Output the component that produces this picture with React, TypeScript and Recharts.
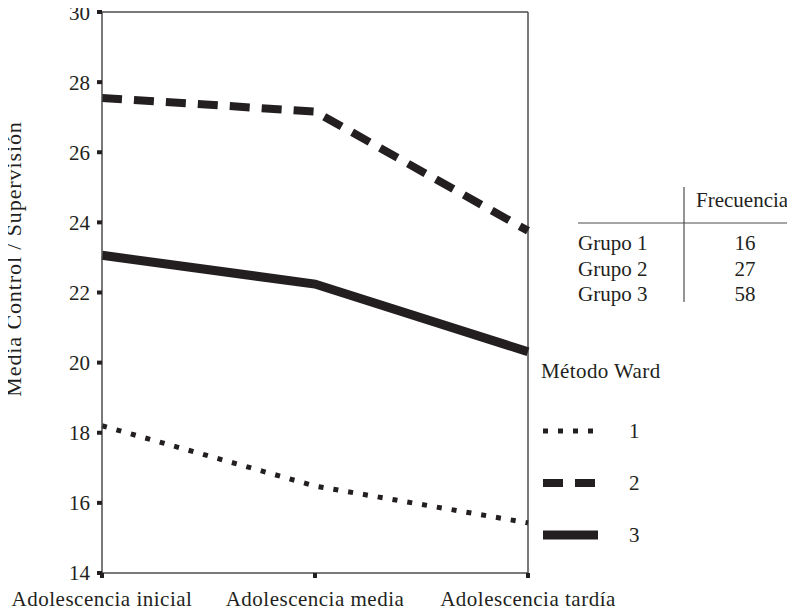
import React from "react"
import { LineChart, Line, XAxis, YAxis, ReferenceLine } from "recharts"

// categorías del eje X
const categories = ["Adolescencia inicial", "Adolescencia media", "Adolescencia tardía"]

// medias por grupo (Método Ward)
const grupo1 = [18.2, 16.48, 15.43]
const grupo2 = [27.55, 27.16, 23.76]
const grupo3 = [23.06, 22.24, 20.31]

const yTicks = [14, 16, 18, 20, 22, 24, 26, 28, 30]

// tabla de frecuencias
const grupos = ["Grupo 1", "Grupo 2", "Grupo 3"]
const frecuencias = [16, 27, 58]

const INK = "#231f20"
const AXIS = "#4d4d4d"
const FONT = "'Liberation Serif', 'Times New Roman', serif"

const series = [
  { key: "g1", name: "1", width: 5, dash: "5 10" },
  { key: "g2", name: "2", width: 8, dash: "20 12" },
  { key: "g3", name: "3", width: 9, dash: undefined as string | undefined },
]

const data = categories.map((name, i) => ({
  name,
  g1: grupo1[i],
  g2: grupo2[i],
  g3: grupo3[i],
}))

// leyenda fuera del chart para que no le quite alto al área de trazado
function WardLegend() {
  return (
    <div style={{ position: "absolute", left: 541, top: 356, width: 200, fontFamily: FONT, color: INK }}>
      <div style={{ fontSize: 21, height: 30, lineHeight: "30px", letterSpacing: 0.4 }}>Método Ward</div>
      {series.map((s, i) => (
        <div key={s.key} style={{ display: "flex", alignItems: "center", height: 52, marginTop: i === 0 ? 19 : 0 }}>
          <svg width={60} height={12}>
            <line
              x1={2}
              y1={6}
              x2={s.dash ? 60 : 57}
              y2={6}
              stroke={INK}
              strokeWidth={s.width}
              strokeDasharray={s.dash}
            />
          </svg>
          <span style={{ fontSize: 21, marginLeft: 28 }}>{s.name}</span>
        </div>
      ))}
    </div>
  )
}

function YLabel(props: any) {
  const { viewBox } = props
  const x = viewBox.x + 21
  const y = 259
  return (
    <text
      x={x}
      y={y}
      transform={`rotate(-90, ${x}, ${y})`}
      textAnchor="middle"
      fontFamily={FONT}
      fontSize={22}
      letterSpacing={0.9}
      fill={INK}
    >
      Media Control / Supervisión
    </text>
  )
}

function FrequencyTable() {
  return (
    <div style={{ position: "absolute", left: 570, top: 180, width: 225, height: 130, fontFamily: FONT, color: INK }}>
      <svg width={225} height={130} style={{ position: "absolute", left: 0, top: 0 }}>
        <line x1={114} y1={7} x2={114} y2={122} stroke={AXIS} strokeWidth={1.2} />
        <line x1={8} y1={43} x2={225} y2={43} stroke={AXIS} strokeWidth={1.2} />
        <text x={126} y={27} fontSize={21} fill={INK}>Frecuencia</text>
        {grupos.map((g, i) => (
          <g key={g}>
            <text x={8} y={70 + i * 25.5} fontSize={21} fill={INK}>{g}</text>
            <text x={175} y={70 + i * 25.5} fontSize={21} fill={INK} textAnchor="middle">{frecuencias[i]}</text>
          </g>
        ))}
      </svg>
    </div>
  )
}

export default function App() {
  return (
    <div style={{ position: "relative", width: 795, height: 615, marginLeft: -8, marginTop: -8, background: "#fff" }}>
      <LineChart width={795} height={615} data={data} margin={{ top: 12, right: 267, bottom: 0, left: 0 }}>
        <XAxis
          dataKey="name"
          height={42}
          axisLine={{ stroke: AXIS, strokeWidth: 1.5 }}
          tickLine={{ stroke: INK, strokeWidth: 4 }}
          tickSize={5}
          tickMargin={13}
          tick={{ fontFamily: FONT, fontSize: 21, fill: INK, letterSpacing: 0.5 }}
          interval={0}
        />
        <YAxis
          width={102}
          domain={[14, 30]}
          ticks={yTicks}
          axisLine={{ stroke: AXIS, strokeWidth: 1.5 }}
          tickLine={{ stroke: INK, strokeWidth: 4 }}
          tickSize={5}
          tickMargin={7}
          tick={{ fontFamily: FONT, fontSize: 21, fill: INK }}
          label={<YLabel />}
        />
        {/* marco superior y derecho */}
        <ReferenceLine y={30} stroke={AXIS} strokeWidth={1.5} />
        <ReferenceLine x={categories[2]} stroke={AXIS} strokeWidth={1.5} />
        {series.map((s) => (
          <Line
            key={s.key}
            dataKey={s.key}
            name={s.name}
            stroke={INK}
            strokeWidth={s.width}
            strokeDasharray={s.dash}
            strokeLinecap="butt"
            strokeLinejoin="miter"
            dot={false}
            activeDot={false}
            isAnimationActive={false}
          />
        ))}
      </LineChart>
      <FrequencyTable />
      <WardLegend />
    </div>
  )
}
